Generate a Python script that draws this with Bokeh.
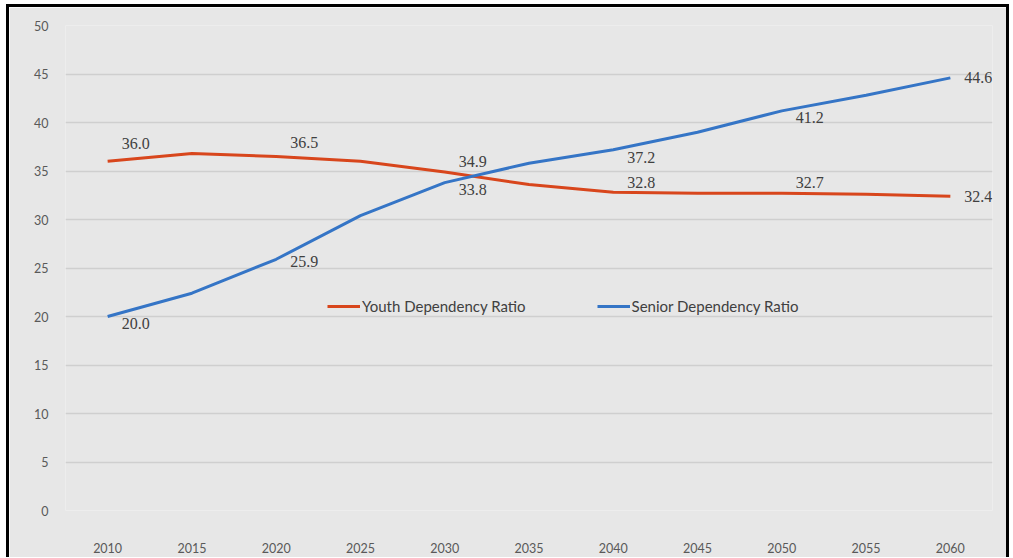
from bokeh.plotting import figure
from bokeh.models import (ColumnDataSource, LabelSet, Legend, LegendItem,
                          FixedTicker, InlineStyleSheet, Range1d)
from bokeh.embed import file_html
from bokeh.resources import INLINE

# ---- data ----
years = [2010, 2015, 2020, 2025, 2030, 2035, 2040, 2045, 2050, 2055, 2060]
youth = [36.0, 36.8, 36.5, 36.0, 34.9, 33.6, 32.8, 32.7, 32.7, 32.6, 32.4]
senior = [20.0, 22.4, 25.9, 30.4, 33.8, 35.8, 37.2, 39.0, 41.2, 42.8, 44.6]
labeled_idx = [0, 2, 4, 6, 8, 10]
y_ticks = [0, 5, 10, 15, 20, 25, 30, 35, 40, 45, 50]
series_names = ["Youth Dependency Ratio", "Senior Dependency Ratio"]

# ---- styles ----
RED = "#d8461c"
BLUE = "#3575c6"
BG = "#e7e7e7"
GRID = "#cfcfcf"
FONT = "Lato"
youth_label_dy = [-18, -14, -10, -10, -11, 0]   # screen px, down positive
senior_label_dy = [7, 2, 7, 8, 7, 0]

p = figure(width=1003, height=553, output_backend="svg", toolbar_location=None,
           x_range=Range1d(2007.5, 2062.5), y_range=Range1d(0, 50),
           min_border_left=56, min_border_right=20, min_border_top=18,
           min_border_bottom=50)
p.stylesheets = [InlineStyleSheet(css=":host { margin: 4px 0 0 6px; border-left: 3px solid #000; border-top: 3px solid #000; border-right: 3px solid #000; }")]
p.background_fill_color = BG
p.border_fill_color = BG
p.outline_line_color = None

p.xgrid.grid_line_color = None
p.ygrid.grid_line_color = GRID
p.ygrid.grid_line_width = 1.5
p.ygrid.ticker = FixedTicker(ticks=y_ticks)

p.yaxis.ticker = FixedTicker(ticks=y_ticks)
p.xaxis.ticker = FixedTicker(ticks=years)
for ax in (p.xaxis, p.yaxis):
    ax.axis_line_color = None
    ax.major_tick_line_color = None
    ax.minor_tick_line_color = None
    ax.major_label_text_font = FONT
    ax.major_label_text_font_size = "12.5px"
    ax.major_label_text_color = "#595959"
p.yaxis.major_label_standoff = 11
p.xaxis.major_label_standoff = 26

src = ColumnDataSource(dict(x=years, youth=youth, senior=senior))
r1 = p.line("x", "youth", source=src, line_color=RED, line_width=3, line_join="round")
r2 = p.line("x", "senior", source=src, line_color=BLUE, line_width=3, line_join="round")

for vals, dys in ((youth, youth_label_dy), (senior, senior_label_dy)):
    lsrc = ColumnDataSource(dict(
        x=[years[i] for i in labeled_idx],
        y=[vals[i] for i in labeled_idx],
        t=["%.1f" % vals[i] for i in labeled_idx],
        yo=[-d for d in dys],
    ))
    p.add_layout(LabelSet(x="x", y="y", text="t", source=lsrc, x_offset=14,
                          y_offset="yo", text_align="left", text_baseline="middle",
                          text_font=FONT, text_font_size="16px", text_color="#404040"))

legend = Legend(items=[LegendItem(label=series_names[0], renderers=[r1]),
                       LegendItem(label=series_names[1], renderers=[r2])],
                orientation="horizontal", location=(262, 194),
                background_fill_alpha=0, border_line_color=None,
                padding=0, margin=0, spacing=71, glyph_width=33, glyph_height=20,
                label_standoff=2, label_text_font=FONT, label_text_font_size="15px",
                label_text_color="#404040")
p.add_layout(legend)

open("out.html", "w").write(file_html(p, INLINE))
